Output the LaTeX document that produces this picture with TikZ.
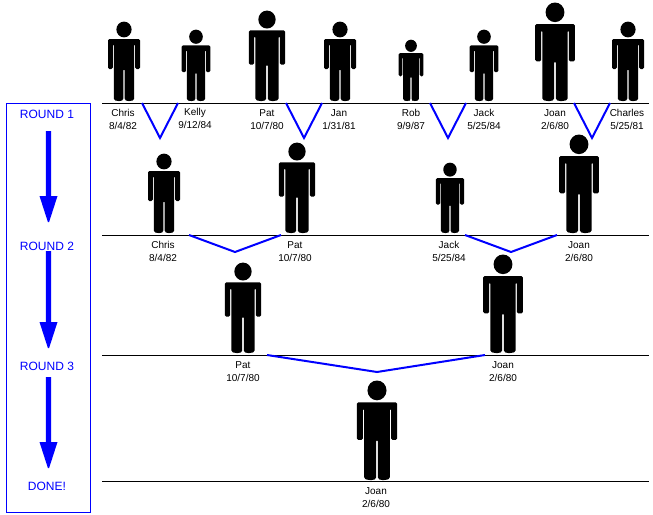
\documentclass[tikz,border=0pt]{standalone}
\usepackage{fontspec}
\setmainfont{Liberation Sans}
\definecolor{pureblue}{RGB}{0,0,255}
\tikzset{
  lbl/.style={font=\fontsize{10}{13}\selectfont,align=center,inner sep=0pt,text=black},
  roundlbl/.style={font=\fontsize{12}{14}\selectfont,text=pureblue,inner sep=0pt},
  floor/.style={draw=black,line width=1pt},
  vee/.style={draw=pureblue,line width=2pt,line join=miter}
}
% #1 x centre, #2 foot y, #3 height in px
\newcommand{\figperson}[3]{%
  \begin{scope}[shift={(#1,#2)},x=#3/79*1pt,y=-#3/79*1pt]
    \fill (0,-71.5) ellipse [x radius=7.6,y radius=7.9];
    \fill[rounded corners=1.4] (-16,-62) -- (16,-62) -- (16,-32) -- (11.2,-32) -- (11.2,-57) -- (10.2,-57)
      -- (10.2,-1) -- (7,0) -- (3,0) -- (0.7,-1) -- (0.7,-32) -- (-0.7,-32) -- (-0.7,-1) -- (-3,0) -- (-7,0) -- (-10.2,-1)
      -- (-10.2,-57) -- (-11.2,-57) -- (-11.2,-32) -- (-16,-32) -- cycle;
  \end{scope}}
% #1 x, #2 y start, #3 y head base, #4 y tip
\newcommand{\figarrow}[4]{%
  \fill[pureblue] (#1-2.6,#2) -- (#1+2.6,#2) -- (#1+2.6,#3) -- (#1+9,#3) -- (#1+0.6,#4) -- (#1-0.6,#4) -- (#1-9,#3) -- (#1-2.6,#3) -- cycle;}
\begin{document}
\begin{tikzpicture}[x=1pt,y=-1pt]
\useasboundingbox (0,0) rectangle (653,514);
\fill[white] (0,0) rectangle (653,514);
% floors
\coordinate (f1a) at (102,103); \coordinate (f1b) at (649,103);
\coordinate (f2a) at (102,235); \coordinate (f2b) at (649,235);
\coordinate (f3a) at (102,355); \coordinate (f3b) at (649,355);
\coordinate (f4a) at (102,481); \coordinate (f4b) at (649,481);
\draw[floor] (f1a) -- (f1b);
\draw[floor] (f2a) -- (f2b);
\draw[floor] (f3a) -- (f3b);
\draw[floor] (f4a) -- (f4b);
% people
\figperson{124}{101}{79}
\figperson{196}{101}{71}
\figperson{267}{101}{90}
\figperson{340}{101}{79}
\figperson{411}{101}{61}
\figperson{484}{101}{71}
\figperson{555}{101}{98}
\figperson{628}{101}{79}
\figperson{164}{233}{79}
\figperson{297}{233}{90}
\figperson{450}{233}{70}
\figperson{579}{233}{98}
\figperson{243}{353}{90}
\figperson{503}{353}{98}
\figperson{377}{480}{99}
% labels
\node[lbl] (chris1) at (123,119.5) {Chris\\8/4/82};
\node[lbl] (kelly1) at (195,118.5) {Kelly\\9/12/84};
\node[lbl] (pat1) at (267,119.5) {Pat\\10/7/80};
\node[lbl] (jan1) at (339,119.5) {Jan\\1/31/81};
\node[lbl] (rob1) at (411,119.5) {Rob\\9/9/87};
\node[lbl] (jack1) at (484,119.5) {Jack\\5/25/84};
\node[lbl] (joan1) at (555,119.5) {Joan\\2/6/80};
\node[lbl] (charles1) at (627,119.5) {Charles\\5/25/81};
\node[lbl] (chris2) at (163,251.5) {Chris\\8/4/82};
\node[lbl] (pat2) at (295,251.5) {Pat\\10/7/80};
\node[lbl] (jack2) at (449,251.5) {Jack\\5/25/84};
\node[lbl] (joan2) at (579,251.5) {Joan\\2/6/80};
\node[lbl] (pat3) at (243,371.5) {Pat\\10/7/80};
\node[lbl] (joan3) at (503,371.5) {Joan\\2/6/80};
\node[lbl] (joan4) at (376,498) {Joan\\2/6/80};
% bracket connectors
\coordinate (v1a) at (142,103); \coordinate (v1m) at (160,138); \coordinate (v1b) at (178,103);
\coordinate (v2a) at (286,103); \coordinate (v2m) at (304,138); \coordinate (v2b) at (322,103);
\coordinate (v3a) at (430,103); \coordinate (v3m) at (448,138); \coordinate (v3b) at (466,103);
\coordinate (v4a) at (574,103); \coordinate (v4m) at (592,138); \coordinate (v4b) at (610,103);
\coordinate (w1a) at (189,235); \coordinate (w1m) at (235,252); \coordinate (w1b) at (281,235);
\coordinate (w2a) at (465,235); \coordinate (w2m) at (511,252); \coordinate (w2b) at (557,235);
\coordinate (x1a) at (267,355); \coordinate (x1m) at (377,372); \coordinate (x1b) at (485,355);
\draw[vee] (v1a) -- (v1m) -- (v1b);
\draw[vee] (v2a) -- (v2m) -- (v2b);
\draw[vee] (v3a) -- (v3m) -- (v3b);
\draw[vee] (v4a) -- (v4m) -- (v4b);
\draw[vee] (w1a) -- (w1m) -- (w1b);
\draw[vee] (w2a) -- (w2m) -- (w2b);
\draw[vee] (x1a) -- (x1m) -- (x1b);
% left panel
\node[draw=pureblue,line width=1pt,minimum width=84pt,minimum height=409pt,inner sep=0pt] (panel) at (48,307.5) {};
\node[roundlbl] (r1) at (47,114) {ROUND 1};
\node[roundlbl] (r2) at (47,246) {ROUND 2};
\node[roundlbl] (r3) at (47,366) {ROUND 3};
\node[roundlbl] (r4) at (47,486) {DONE!};
\figarrow{48.5}{131}{196}{222}
\figarrow{48.5}{251}{322}{348}
\figarrow{48.5}{377}{442}{468}
\end{tikzpicture}
\end{document}
